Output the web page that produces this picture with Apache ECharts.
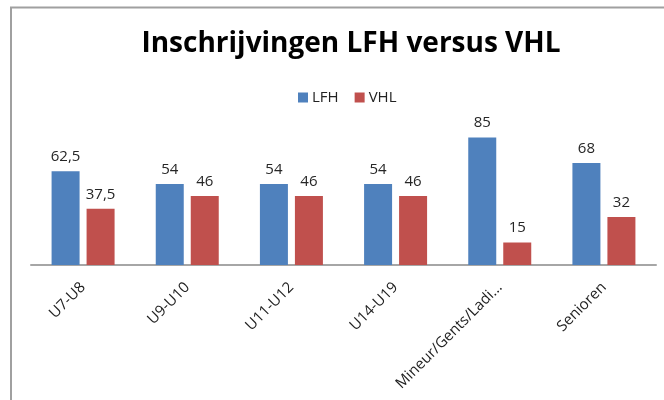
<!DOCTYPE html>
<html>
<head>
<meta charset="utf-8">
<script src="https://cdn.jsdelivr.net/npm/echarts@6/dist/echarts.min.js"></script>
<style>
html,body{margin:0;padding:0;background:#fff;}
#c{width:664px;height:400px;}
</style>
</head>
<body>
<div id="c"></div>
<script>
const categories = ['U7-U8', 'U9-U10', 'U11-U12', 'U14-U19', 'Mineur/Gents/Ladi...', 'Senioren'];
const lfh = [62.5, 54, 54, 54, 85, 68];
const vhl = [37.5, 46, 46, 46, 15, 32];
const seriesNames = ['LFH', 'VHL'];

const font = '"Open Sans", "Noto Sans", sans-serif';
const chart = echarts.init(document.getElementById('c'), null, {renderer: 'canvas'});
const labelFmt = p => String(p.value).replace('.', ',');
chart.setOption({
  animation: false,
  backgroundColor: '#fff',
  title: {
    text: 'Inschrijvingen LFH versus VHL',
    left: 346, textAlign: 'center', top: 25,
    textStyle: {fontFamily: font, fontWeight: 'bold', fontSize: 28, color: '#000'}
  },
  legend: {
    data: seriesNames,
    left: 293, top: 85, itemWidth: 10, itemHeight: 10, itemGap: 16,
    icon: 'rect',
    textStyle: {fontFamily: font, fontSize: 15, color: '#222', padding: [0,0,0,-1]}
  },
  grid: {left: 31, right: 8, top: 115, bottom: 135},
  xAxis: {
    type: 'category', data: categories,
    axisLine: {lineStyle: {color: '#a6a6a6', width: 2}},
    axisTick: {show: false},
    axisLabel: {rotate: 45, fontFamily: font, fontSize: 15, color: '#222', margin: 20, interval: 0}
  },
  yAxis: {type: 'value', min: 0, max: 100, show: false, splitLine: {show: false}},
  series: [
    {name: seriesNames[0], type: 'bar', data: lfh, barWidth: 28, barGap: '25%',
     itemStyle: {color: '#4f81bd'},
     label: {show: true, position: 'top', distance: 7, formatter: labelFmt, fontFamily: font, fontSize: 15, color: '#262626'}},
    {name: seriesNames[1], type: 'bar', data: vhl, barWidth: 28,
     itemStyle: {color: '#c0504d'},
     label: {show: true, position: 'top', distance: 7, formatter: labelFmt, fontFamily: font, fontSize: 15, color: '#262626'}}
  ],
  graphic: [
    {type: 'polyline', shape: {points: [[11, 400], [11, 7.5], [664, 7.5]]}, style: {stroke: '#a0a0a0', lineWidth: 2, fill: null}, silent: true}
  ]
});
</script>
</body>
</html>
